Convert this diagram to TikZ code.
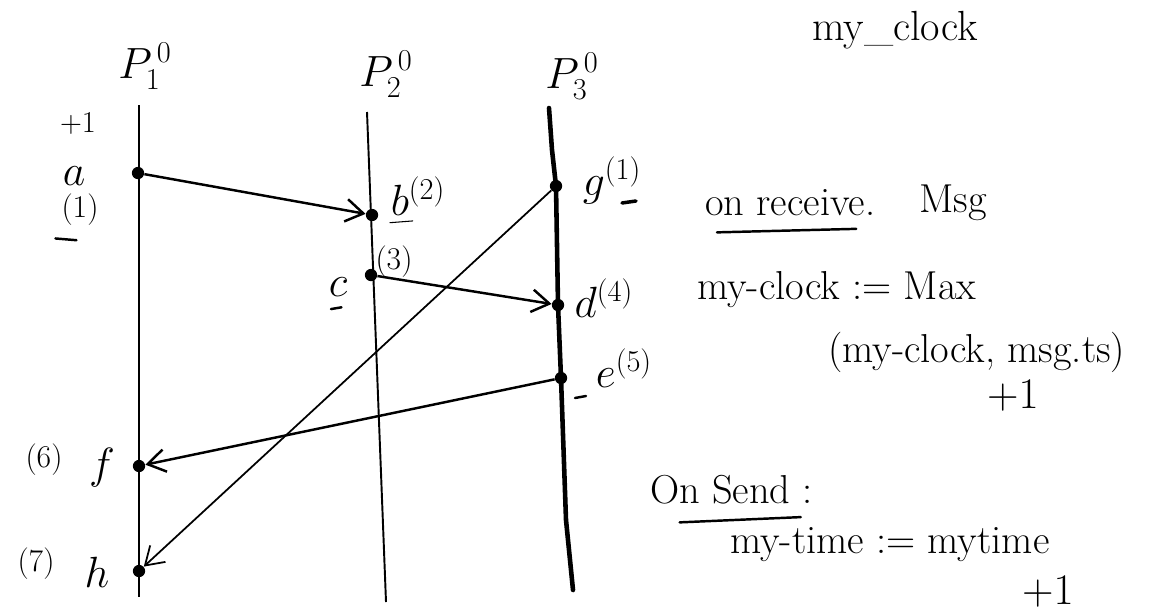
\documentclass[tikz,border=0pt]{standalone}
\usepackage{tikz}
\usetikzlibrary{positioning,arrows.meta}

\begin{document}
\begin{tikzpicture}[
  x=0.02cm, y=-0.02cm,
  >={Straight Barb[length=3.5mm,width=4.5mm]},
  life/.style={line width=1.1pt},
  lifethick/.style={line width=2.6pt, line cap=round, line join=round},
  event/.style={circle, fill, inner sep=0pt, minimum size=7pt},
  msg/.style={->, line width=1.4pt},
  lbl/.style={font=\fontsize{24}{26}\selectfont, inner sep=1pt},
  tag/.style={font=\fontsize{18}{20}\selectfont, inner sep=1pt},
  note/.style={font=\fontsize{23}{26}\selectfont, anchor=west, inner sep=1pt},
  uline/.style={line width=1.4pt, line cap=round},
]
\useasboundingbox (0,0) rectangle (1155,613);

% === Lifeline ends ===
\coordinate (p1top) at (139,105);
\coordinate (p1bot) at (139,597);
\coordinate (p2top) at (367,112);
\coordinate (p2bot) at (386,602);
\coordinate (p3top) at (549,108);
\coordinate (p3bot) at (573,590);

% === Events ===
\node[event] (a) at (138,173) {};
\node[event] (b) at (372,215) {};
\node[event] (c) at (371,275) {};
\node[event] (g) at (556,186) {};
\node[event] (d) at (558,305) {};
\node[event] (e) at (561,378) {};
\node[event] (f) at (139,466) {};
\node[event] (h) at (139,571) {};

% === Lifelines ===
\draw[life] (p1top) -- (p1bot);
\draw[life] (p2top) -- (p2bot);
\draw[lifethick] (p3top) -- (552,150) -- (g.center) -- (d.center) -- (e.center) -- (566,520) -- (p3bot);

% === Process labels ===
\node[lbl] (p1lbl) at (145,66) {$P_1^{\,0}$};
\node[lbl] (p2lbl) at (386,74) {$P_2^{\,0}$};
\node[lbl] (p3lbl) at (572,76) {$P_3^{\,0}$};

% === Messages ===
\draw[msg] (a) -- (b);
\draw[msg] (c) -- (d);
\draw[msg] (e) -- (f);
\draw[->, line width=1pt] (g) -- (h);

% === Event labels ===
\node[tag] (inc) at (78,124) {$+1$};
\node[lbl] (alab) at (74,176) {$a$};
\node[tag] (acl) at (80,210) {(1)};
\draw[uline] ([xshift=-14pt,yshift=-6pt]acl.south) -- ([xshift=-2pt,yshift=-7pt]acl.south);
\node[lbl] (blab) at (418,196) {$b^{(2)}$};
\draw[uline, line width=0.6pt] ([xshift=-16pt,yshift=-3pt]blab.south) -- ([xshift=-3pt,yshift=-2pt]blab.south);
\node[tag] (ccl) at (394,262) {(3)};
\node[lbl] (clab) at (338,287) {$c$};
\draw[uline] ([xshift=-4pt,yshift=-6pt]clab.south) -- ([xshift=2pt,yshift=-5pt]clab.south);
\node[lbl] (glab) at (612,180) {$g^{(1)}$};
\draw[uline, line width=2pt] (622,203) -- (636,201);
\node[lbl] (dlab) at (604,298) {$d^{(4)}$};
\node[lbl] (elab) at (624,368) {$e^{(5)}$};
\draw[uline] (575,398) -- (586,396);
\node[lbl] (flab) at (102,468) {$f$};
\node[tag] (fcl) at (44,460) {(6)};
\node[lbl] (hlab) at (97,572) {$h$};
\node[tag] (hcl) at (36,564) {(7)};

% === Notes on the right ===
\node[lbl] (title) at (895,30) {my\_clock};
\node[note] (recv) at (703,203) {on receive.};
\node[note, right=0.8cm of recv] (msgw) {Msg};
\draw[uline] ([xshift=8pt,yshift=-8pt]recv.south west) -- ([xshift=-12pt,yshift=-6pt]recv.south east);
\node[note] (upd) at (695,290) {my-clock := Max};
\node[note] (args) at (826,352) {(my-clock, msg.ts)};
\node[note] (plus1) at (985,396) {$+1$};
\node[note] (send) at (648,490) {On Send :};
\draw[uline] ([xshift=18pt,yshift=-9pt]send.south west) -- ([xshift=-8pt,yshift=-6pt]send.south east);
\node[note] (tick) at (728,545) {my-time := mytime};
\node[note] (plus2) at (1020,592) {$+1$};

\end{tikzpicture}
\end{document}
